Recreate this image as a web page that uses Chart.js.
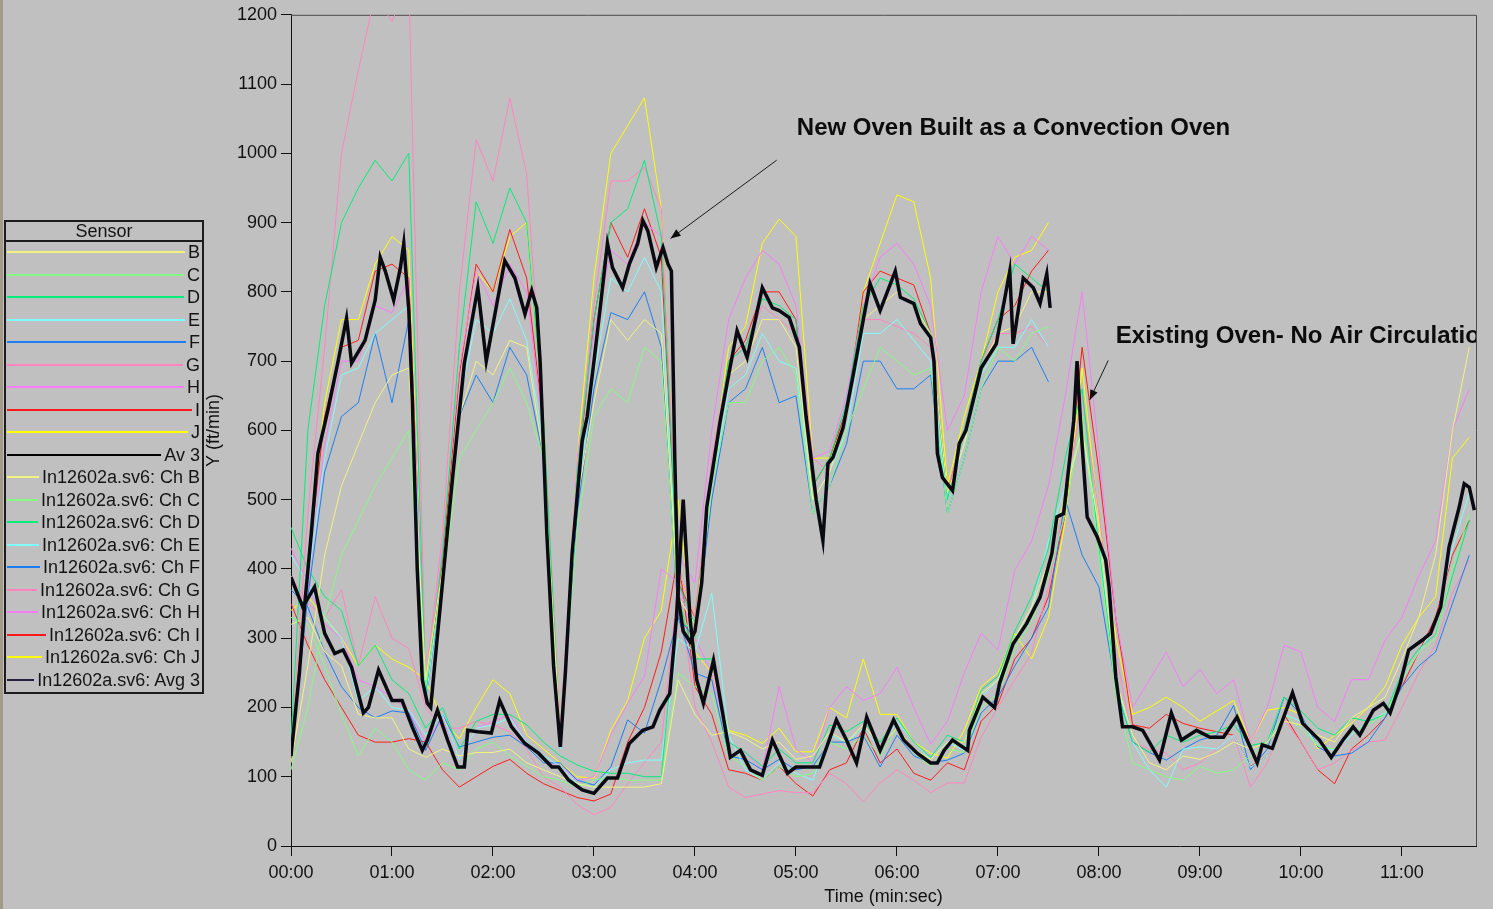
<!DOCTYPE html>
<html>
<head>
<meta charset="utf-8">
<title>Oven air velocity</title>
<script src="https://cdn.jsdelivr.net/npm/chart.js@4.4.1/dist/chart.umd.min.js"></script>
<style>
    html, body { margin: 0; padding: 0; background: #c0c0c0; }
    #wrap { position: relative; width: 1493px; height: 909px; overflow: hidden; background: #c0c0c0; }
    #edge { position: absolute; left: 0; top: 0; width: 3px; height: 909px; background: #a39a8a; }
    #ovenChart { position: absolute; left: 0; top: 0; }
    #legend {
        position: absolute; left: 4px; top: 220px; width: 200px; height: 474px;
        border: 2px solid #1c1c1c; box-sizing: border-box;
        font: 18px "Liberation Sans", Arial, sans-serif; color: #141414;
    }
    #legend .head { height: 18px; line-height: 18px; text-align: center; border-bottom: 2px solid #1c1c1c; }
    #legend .row { height: 22.5px; display: flex; align-items: center; padding: 0 2px 0 1px; position: relative; top: -1px; }
    #legend .row .ln { flex: 1; height: 2px; margin-right: 3px; }
    #legend .row span { white-space: nowrap; line-height: 20px; }
</style>
</head>
<body>
<div id="wrap">
    <div id="edge"></div>
    <canvas id="ovenChart" width="1493" height="909"></canvas>
    <div id="legend"><div class="head">Sensor</div><div id="legendRows"></div></div>
</div>
<script>
// time axis (seconds) for the channel traces
const timeNew = [0,10,20,30,40,50,60,70,80,90,100,110,120,130,140,150,160,170,180,190,200,210,220,230,240,250,260,270,280,290,300,310,320,330,340,350,360,370,380,390,400,410,420,430,440,450];
const timeOld = [0,10,20,30,40,50,60,70,80,90,100,110,120,130,140,150,160,170,180,190,200,210,220,230,240,250,260,270,280,290,300,310,320,330,340,350,360,370,380,390,400,410,420,430,440,450,460,470,480,490,500,510,520,530,540,550,560,570,580,590,600,610,620,630,640,650,660,670,680,690,700];

// new oven (convection) - channels B..J, ft/min
const newB = [120,260,420,520,580,640,680,690,240,400, 620,700,680,730,720,560,160,500,640,760, 730,760,740,360,320,530,680,700,760,760, 720,500,540,620,760,780,800,780,740,510, 580,690,740,750,800,800];
const newC = [110,200,330,420,470,520,560,600,230,380, 560,600,640,690,640,560,150,460,620,660, 640,720,700,340,300,520,640,640,700,720, 680,480,520,600,660,720,700,680,690,480, 560,660,720,700,740,750];
const newD = [150,600,780,900,950,990,960,1000,220,420, 720,930,870,950,900,620,150,540,760,900, 920,990,880,380,320,540,700,720,790,780, 760,520,560,640,780,820,810,790,740,500, 600,700,760,840,820,800];
const newE = [130,380,560,680,690,740,760,780,210,390, 640,760,740,790,730,580,140,500,680,820, 800,850,800,360,320,520,660,680,740,700, 690,500,540,600,740,740,760,730,700,500, 580,680,720,720,760,720];
const newF = [130,360,540,620,640,740,640,760,210,380, 620,680,640,720,680,560,140,480,660,770, 760,800,720,330,300,500,640,660,720,640, 650,480,520,580,700,700,660,660,680,480, 560,660,700,700,720,670];
const newG = [140,480,720,1000,1120,1230,1190,1250,240,450, 800,1020,960,1080,970,620,170,540,780,960, 960,980,920,400,330,560,700,720,780,760, 740,560,540,620,760,760,750,740,720,510, 600,700,740,740,750,720];
const newH = [130,370,580,700,700,780,770,820,220,430, 690,830,780,840,800,600,150,560,740,860, 840,900,880,420,380,600,760,820,860,840, 780,560,570,650,780,850,870,840,780,600, 650,800,880,840,880,860];
const newI = [135,400,620,720,730,830,840,820,215,410, 680,840,800,890,820,610,145,530,760,900, 850,920,850,380,330,540,700,730,800,800, 760,520,560,630,800,830,820,810,740,510, 600,700,760,780,830,860];
const newJ = [130,410,640,760,760,840,880,860,215,410, 690,830,800,880,900,620,150,560,820,1000, 1040,1080,920,400,330,540,720,750,870,905, 880,560,560,620,800,870,940,930,820,520, 620,700,800,850,860,900];

// new oven average (own time points)
const avgNewT = [0,5,8,12,16,22,28,33,36,44, 50,53,56,61,65,67,70,72,75,78, 81,83,86,96,103,111,116,127,133,139, 143,146,148,152,156,160,163,167,173,176, 180,184,188,191,197,201,206,209,212,217, 221,224,226,228,230,233,237,240,244,247, 255,260,265,271,280,286,290,296,300,302, 306,312,316,319,322,328,334,340,344,350, 359,362,370,374,380,382,384,387,393,397, 401,410,419,424,427,429,435,441,445,449, 451];
const avgNewV = [130,250,345,450,567,630,700,762,697,730, 788,850,830,788,835,870,773,650,400,240, 206,200,278,532,697,806,700,845,820,768, 802,777,700,450,260,143,250,422,585,620, 700,783,870,835,806,840,870,903,888,835, 864,840,830,560,360,310,295,310,380,489, 614,680,744,705,806,777,773,763,734,720, 620,500,441,552,561,604,680,760,812,773, 830,792,783,754,734,700,567,532,513,581, 600,690,725,790,830,725,820,806,783,826, 777];

// existing oven (no air circulation) - In12602a.sv6 channels
const oldB = [320,330,280,260,190,185,185,140,128,140, 130,135,135,140,120,110,100,90,85,85, 85,85,90,240,190,160,165,155,140,150, 125,130,165,150,175,145,170,140,125,150, 150,220,240,300,345,410,510,600,460,240, 160,120,110,130,125,135,150,140,150,180, 175,160,150,185,200,215,270,330,420,600, 720];
const oldC = [330,320,260,190,130,170,150,110,95,120, 110,140,150,130,115,100,95,85,95,100, 95,95,95,250,230,220,130,115,95,115, 100,105,150,140,160,130,170,135,115,140, 135,200,220,285,325,390,480,620,420,220, 120,110,100,95,115,105,110,130,150,190, 170,145,140,165,175,190,240,280,300,400, 480];
const oldD = [460,400,360,340,260,290,240,220,170,200, 140,180,190,190,175,150,130,117,108,105, 105,100,100,360,270,270,150,135,115,140, 120,120,175,165,180,150,185,150,128,160, 150,225,245,310,360,430,560,660,430,230, 150,135,160,150,160,165,175,145,150,215, 195,170,160,185,180,190,250,285,305,390, 470];
const oldE = [420,380,330,300,210,230,200,196,160,190, 125,170,175,185,150,130,115,90,85,110, 120,124,124,300,280,365,160,110,95,120, 105,95,160,150,170,140,180,150,125,150, 138,215,240,300,345,440,520,600,440,240, 150,110,85,140,143,140,160,114,130,190, 180,145,138,160,180,192,240,280,320,430, 510];
const oldF = [370,345,280,230,200,185,195,192,138,190, 143,150,157,160,143,120,120,95,88,114, 182,163,240,330,250,240,130,125,110,125, 110,115,150,150,160,114,160,130,120,124, 134,192,215,260,300,345,500,420,374,230, 150,135,124,140,153,160,203,110,140,215, 190,143,130,134,150,185,230,260,280,350, 420];
const oldG = [390,350,330,370,260,360,300,285,200,170, 170,180,175,165,140,100,85,60,45,56, 90,120,150,380,200,150,85,70,75,80, 77,77,105,90,64,91,110,95,77,91, 91,157,200,240,278,374,500,650,480,280, 150,140,134,110,120,140,160,85,120,182, 150,110,120,138,150,153,200,250,290,365, 413];
const oldH = [430,380,320,300,240,230,215,195,150,185, 125,170,180,190,150,125,115,95,100,160, 206,245,400,380,300,250,150,135,110,230, 140,120,200,230,210,220,258,200,147,180, 250,307,283,398,440,520,650,800,567,330, 200,240,280,230,255,220,240,150,200,290, 280,200,180,240,240,297,330,390,440,600, 660];
const oldI = [350,290,240,200,160,150,150,155,150,110, 85,100,115,125,105,90,80,70,65,75, 150,200,280,420,230,190,110,105,95,115, 90,72,110,120,170,120,140,105,95,120, 110,180,205,270,300,360,480,720,540,330, 175,170,190,177,170,165,160,115,130,190, 150,110,90,140,160,185,230,280,330,420, 470];
const oldJ = [340,360,330,300,260,290,270,258,240,182, 155,200,240,220,160,140,120,100,98,167, 210,300,340,500,280,250,167,160,148,170, 136,136,200,185,270,190,190,150,134,127, 167,230,250,307,270,330,470,690,470,300, 190,200,215,200,180,195,210,150,196,200, 190,140,160,177,200,230,290,330,360,560, 590];

// existing oven average (own time points)
const avgOldT = [0,7,14,20,26,31,36,43,46,52, 60,66,72,78,81,87,93,99,103,105, 111,119,124,131,139,147,155,159,165,173, 180,188,194,201,209,215,219,225,229,233, 237,241,245,251,261,267,273,280,286,295, 300,314,324,330,336,342,350,358,364,372, 380,384,388,393,402,403,411,418,421,429, 437,445,452,455,459,463,465,467,469,473, 479,484,486,490,494,500,506,516,523,529, 538,546,554,562,568,574,577,583,595,601, 611,618,625,631,635,643,649,653,659,664, 672,677,683,688,694,697,700,703];
const avgOldV = [388,345,374,307,278,283,258,192,200,254, 210,210,172,138,153,196,153,114,114,167, 165,163,210,172,148,134,114,114,95,81, 76,98,98,148,167,172,196,220,330,500, 330,240,206,268,128,138,110,102,153,105, 114,114,182,153,120,186,138,182,153,134, 120,120,138,153,138,167,215,200,235,292, 321,359,422,475,480,567,614,700,614,475, 446,413,374,244,172,172,167,124,192,153, 167,157,157,186,153,120,146,141,221,177, 153,128,153,172,160,196,206,192,235,283, 297,307,345,432,489,523,518,485];

const sensorLetters = ['B', 'C', 'D', 'E', 'F', 'G', 'H', 'I', 'J'];
const sensorColors = ['#f2f27e', '#84fa84', '#00ee78', '#80fcfc', '#1c7ef2', '#ff84be', '#f87cf8', '#ff1a1a', '#ffff00'];
const newSeries = [newB, newC, newD, newE, newF, newG, newH, newI, newJ];
const oldSeries = [oldB, oldC, oldD, oldE, oldF, oldG, oldH, oldI, oldJ];
const avgColor = '#0a0a12';
const filePrefix = 'In12602a.sv6: ';

// annotation text & arrows, placed in data units (seconds, ft/min)
const notes = [
    { text: 'New Oven Built as a Convection Oven', t: 300.5, v: 1036, arrow: [288.5, 990, 225.5, 877] },
    { text: 'Existing Oven- No Air Circulation', t: 490, v: 736, arrow: [485.5, 701, 474.5, 644] }
];

const FONT = '"Liberation Sans", Arial, sans-serif';
Chart.defaults.font.family = FONT;

function toPoints(times, values) {
    return values.map((v, i) => ({ x: times[i], y: v }));
}
function mmss(v) {
    const m = Math.floor(v / 60), s = Math.round(v % 60);
    return String(m).padStart(2, '0') + ':' + String(s).padStart(2, '0');
}

const datasets = [];
// averages on top
datasets.push({ label: 'Av 3', data: toPoints(avgNewT, avgNewV), borderColor: avgColor, borderWidth: 3.5, order: 0 });
datasets.push({ label: filePrefix + 'Avg 3', data: toPoints(avgOldT, avgOldV), borderColor: avgColor, borderWidth: 3.5, order: 0 });
sensorLetters.forEach((ch, i) => {
    datasets.push({ label: ch, data: toPoints(timeNew, newSeries[i]), borderColor: sensorColors[i], borderWidth: 1, order: 1 });
    datasets.push({ label: filePrefix + 'Ch ' + ch, data: toPoints(timeOld, oldSeries[i]), borderColor: sensorColors[i], borderWidth: 1, order: 2 });
});

// top / right frame of the plot
const framePlugin = {
    id: 'frame',
    beforeDatasetsDraw(chart) {
        const { ctx, chartArea: a } = chart;
        ctx.save();
        ctx.strokeStyle = '#4a4a4a';
        ctx.lineWidth = 1;
        ctx.beginPath();
        ctx.moveTo(a.left, a.top + 0.5);
        ctx.lineTo(a.right + 0.5, a.top + 0.5);
        ctx.lineTo(a.right + 0.5, a.bottom);
        ctx.stroke();
        ctx.restore();
    }
};

const notesPlugin = {
    id: 'notes',
    afterDatasetsDraw(chart) {
        const { ctx, chartArea: a, scales: { x, y } } = chart;
        ctx.save();
        ctx.beginPath();
        ctx.rect(a.left, a.top, a.right - a.left, a.bottom - a.top);
        ctx.clip();
        ctx.fillStyle = '#0c0c0c';
        ctx.strokeStyle = '#1a1a1a';
        ctx.font = 'bold 24px ' + FONT;
        ctx.textBaseline = 'middle';
        ctx.textAlign = 'left';
        notes.forEach(n => {
            ctx.fillText(n.text, x.getPixelForValue(n.t), y.getPixelForValue(n.v));
            const x1 = x.getPixelForValue(n.arrow[0]), y1 = y.getPixelForValue(n.arrow[1]);
            const x2 = x.getPixelForValue(n.arrow[2]), y2 = y.getPixelForValue(n.arrow[3]);
            ctx.lineWidth = 1;
            ctx.beginPath();
            ctx.moveTo(x1, y1);
            ctx.lineTo(x2, y2);
            ctx.stroke();
            const ang = Math.atan2(y2 - y1, x2 - x1);
            ctx.beginPath();
            ctx.moveTo(x2, y2);
            ctx.lineTo(x2 - 10 * Math.cos(ang) + 4 * Math.sin(ang), y2 - 10 * Math.sin(ang) - 4 * Math.cos(ang));
            ctx.lineTo(x2 - 10 * Math.cos(ang) - 4 * Math.sin(ang), y2 - 10 * Math.sin(ang) + 4 * Math.cos(ang));
            ctx.closePath();
            ctx.fill();
        });
        ctx.restore();
    }
};

new Chart(document.getElementById('ovenChart').getContext('2d'), {
    type: 'line',
    data: { datasets },
    options: {
        responsive: false,
        animation: false,
        devicePixelRatio: 1,
        parsing: true,
        elements: { point: { radius: 0 }, line: { tension: 0, borderJoinStyle: 'miter' } },
        layout: { padding: { left: 203, right: 17, top: 14, bottom: 0 } },
        plugins: { legend: { display: false }, tooltip: { enabled: false } },
        scales: {
            x: {
                type: 'linear', min: 0, max: 704,
                afterFit(scale) { scale.height = 63; },
                ticks: { stepSize: 60, includeBounds: false, autoSkip: false, maxRotation: 0, padding: 6,
                         color: '#111', font: { size: 18 }, callback: v => mmss(v) },
                grid: { drawOnChartArea: false, tickLength: 10, color: '#111' },
                border: { color: '#111', width: 1 },
                title: { display: true, text: 'Time (min:sec)', color: '#111', font: { size: 18 }, padding: { top: 0, bottom: 1 } }
            },
            y: {
                min: 0, max: 1200,
                afterFit(scale) { scale.width = 88; },
                ticks: { stepSize: 100, padding: 4, color: '#111', font: { size: 18 }, callback: v => String(v) },
                grid: { drawOnChartArea: false, tickLength: 10, color: '#111' },
                border: { color: '#111', width: 1 },
                title: { display: true, text: 'Y (ft/min)', color: '#111', font: { size: 18 }, padding: { top: 0, bottom: 0 } }
            }
        }
    },
    plugins: [framePlugin, notesPlugin]
});

// legend box, same order as the reference
const rows = document.getElementById('legendRows');
function addRow(label, color) {
    const r = document.createElement('div');
    r.className = 'row';
    const ln = document.createElement('div');
    ln.className = 'ln';
    ln.style.background = color;
    const sp = document.createElement('span');
    sp.textContent = label;
    r.appendChild(ln);
    r.appendChild(sp);
    rows.appendChild(r);
}
sensorLetters.forEach((ch, i) => addRow(ch, sensorColors[i]));
addRow('Av 3', '#000000');
sensorLetters.forEach((ch, i) => addRow(filePrefix + 'Ch ' + ch, sensorColors[i]));
addRow(filePrefix + 'Avg 3', '#20203a');
</script>
</body>
</html>
